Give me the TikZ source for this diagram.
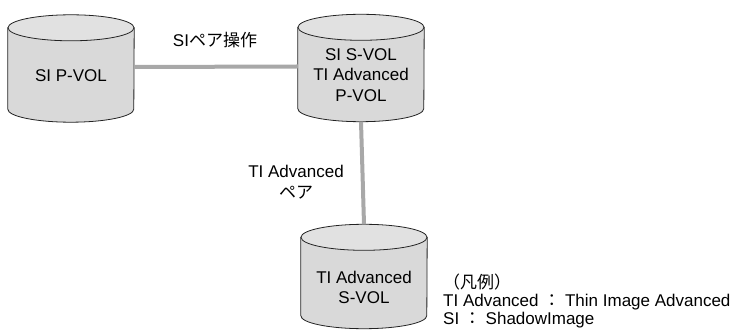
\documentclass[tikz,border=0pt]{standalone}
\usepackage{fontspec}
\setmainfont{Liberation Sans}
\newfontfamily\jp{Noto Sans CJK JP}

% cylinder round a named (empty) node
\newcommand\drawvol[1]{%
  \filldraw[volbody] ([yshift=-\ry]#1.north west) -- ([yshift=\ry]#1.south west)
    arc[start angle=180, end angle=360, x radius=\rx, y radius=\ry]
    -- ([yshift=-\ry]#1.north east) -- cycle;
  \filldraw[volend] ([yshift=-\ry]#1.north) ellipse[x radius=\rx, y radius=\ry];
}

\begin{document}
\begin{tikzpicture}[x=1pt, y=1pt, font=\fontsize{17}{20.5}\selectfont]
  % colors close to the figure
  \definecolor{volfill}{RGB}{217,217,217}
  \definecolor{volendfill}{RGB}{225,225,225}
  \definecolor{linegray}{RGB}{168,168,168}
  \definecolor{edgeblack}{RGB}{35,35,35}

  % parameters
  \def\rx{63pt}   % half width of a volume
  \def\ry{13pt}   % half height of its end ellipse

  \tikzset{
    vol/.style={minimum width=126pt, minimum height=107pt, inner sep=0pt},
    volbody/.style={fill=volfill, draw=edgeblack, line width=0.8pt},
    volend/.style={fill=volendfill, draw=edgeblack, line width=0.8pt},
    voltext/.style={align=center, inner sep=0pt},
    pairline/.style={linegray, line width=4pt},
    legend/.style={anchor=base west, inner sep=0pt}
  }

  \useasboundingbox (0,0) rectangle (738,329);

  % volumes
  \node[vol] (sipvol) at (71,260.5) {};
  \node[vol] (sisvol) at (361,261) {};
  \node[vol, minimum height=104pt] (tisvol) at (364,52.5) {};
  \drawvol{sipvol}
  \drawvol{sisvol}
  \drawvol{tisvol}

  \node[voltext] at ([yshift=-7pt]sipvol.center) {SI P-VOL};
  \node[voltext] at ([yshift=-7pt]sisvol.center) {SI S-VOL\\TI Advanced\\P-VOL};
  \node[voltext] at ([yshift=-11pt]tisvol.center) {TI Advanced\\S-VOL};

  % pairs
  \draw[pairline] ([yshift=1.5pt]sipvol.east) -- ([yshift=1.5pt]sisvol.west);
  \draw[pairline] (sisvol.south) -- (tisvol.north);

  \node (siop) at (215,289) {SI{\jp ペア操作}};
  \node[align=center] (tipair) at (296,147) {TI Advanced\\{\jp ペア}};

  % legend
  \node[legend] (legtitle) at (443,40) {\jp （凡例）};
  \node[legend] (legti) at (443,22.5) {TI Advanced {\jp ：} Thin Image Advanced};
  \node[legend] (legsi) at (443,5) {SI {\jp ：} ShadowImage};
\end{tikzpicture}
\end{document}
